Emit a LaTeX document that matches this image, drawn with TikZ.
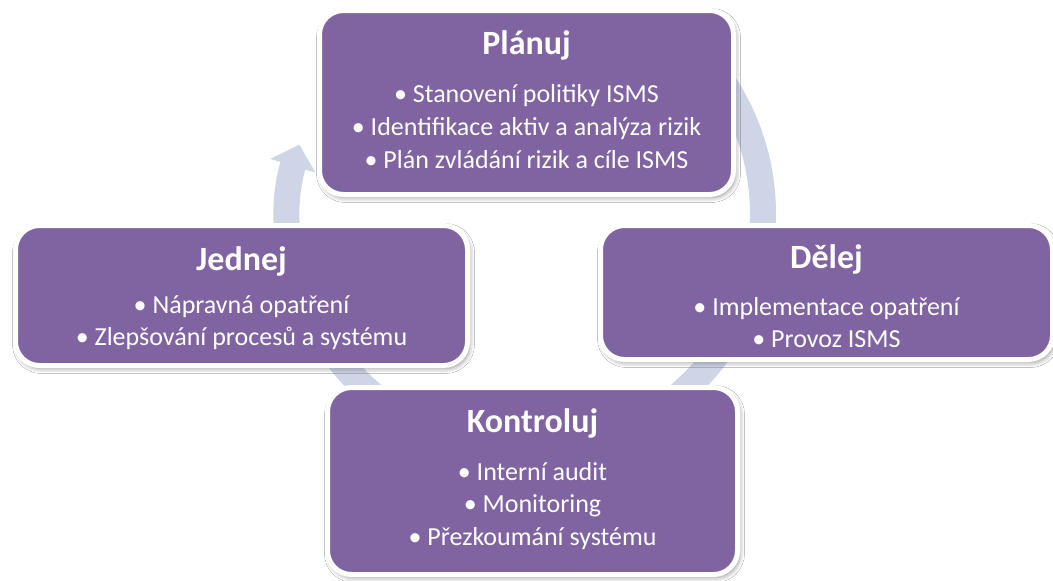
\documentclass[tikz,border=0pt]{standalone}
\usepackage{fontspec}
\setmainfont{Carlito}
\usetikzlibrary{arrows.meta,shadows.blur}
\definecolor{boxpurple}{HTML}{8064A2}
\definecolor{arcblue}{HTML}{CDD5E6}
\tikzset{
  phase/.style={draw=white, line width=5pt, fill=boxpurple, rounded corners=24pt,
    inner sep=0pt,
    blur shadow={shadow xshift=2pt, shadow yshift=-3pt, shadow blur radius=5pt, shadow opacity=45}},
  ttl/.style={text=white, inner sep=0pt, anchor=base, font=\fontsize{34}{40}\selectfont\bfseries},
  itm/.style={text=white, inner sep=0pt, anchor=base, font=\fontsize{26}{30}\selectfont},
  cyclearrow/.style={draw=arcblue, line width=26pt, -{Triangle[width=46pt,length=22pt]}}
}
\begin{document}
\begin{tikzpicture}[x=1pt,y=-1pt]
\useasboundingbox (0,0) rectangle (1053,581);
\clip (0,0) rectangle (1053,581);
\fill[white] (0,0) rectangle (1053,581);
% cycle arrow
\coordinate (cc) at (526,214);
\draw[cyclearrow] (cc) ++(312:237) arc[start angle=312, end angle=557, radius=237];
% boxes
\node[phase, minimum width=414pt, minimum height=184pt] (plan) at (526.5,102.5) {};
\node[phase, minimum width=452pt, minimum height=140pt] (act) at (241.5,295.5) {};
\node[phase, minimum width=452pt, minimum height=134pt] (do) at (826.5,292.5) {};
\node[phase, minimum width=410pt, minimum height=187pt] (check) at (532.5,481) {};
% Planuj
\node[ttl] (planT) at (526.5,54) {Plánuj};
\node[itm] (plan1) at (526.5,102) {• Stanovení politiky ISMS};
\node[itm] (plan2) at (526.5,135) {• Identifikace aktiv a analýza rizik};
\node[itm] (plan3) at (526.5,168) {• Plán zvládání rizik a cíle ISMS};
% Jednej
\node[ttl] (actT) at (241.5,270) {Jednej};
\node[itm] (act1) at (241.5,313) {• Nápravná opatření};
\node[itm] (act2) at (241.5,345) {• Zlepšování procesů a systému};
% Delej
\node[ttl] (doT) at (826.5,268) {Dělej};
\node[itm] (do1) at (826.5,315) {• Implementace opatření};
\node[itm] (do2) at (826.5,347) {• Provoz ISMS};
% Kontroluj
\node[ttl] (checkT) at (532.5,432) {Kontroluj};
\node[itm] (check1) at (532.5,480) {• Interní audit};
\node[itm] (check2) at (532.5,512) {• Monitoring};
\node[itm] (check3) at (532.5,545) {• Přezkoumání systému};
\end{tikzpicture}
\end{document}
